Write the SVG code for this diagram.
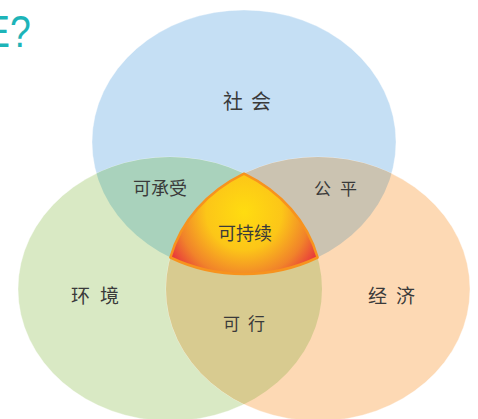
<svg xmlns="http://www.w3.org/2000/svg" width="478" height="419" viewBox="0 0 478 419">
<defs>
<style>
.lbl{font-family:"Noto Sans CJK SC","Noto Sans",sans-serif;fill:#3a3a3a;text-anchor:middle}
.ttl{font-family:"Liberation Sans",Arial,sans-serif;fill:#1db4b8;font-size:44px}
.edge{stroke:#ffffff;stroke-opacity:0.35;stroke-width:1}
</style>
<clipPath id="cBlue"><ellipse cx="244" cy="142" rx="152" ry="132"/></clipPath>
<clipPath id="cGreen"><ellipse cx="170" cy="289" rx="152" ry="132"/></clipPath>
<radialGradient id="gCore" gradientUnits="userSpaceOnUse" cx="244" cy="212" r="84">
<stop offset="0" stop-color="#ffdc10"/>
<stop offset="0.45" stop-color="#fcc618"/>
<stop offset="0.78" stop-color="#f1832a"/>
<stop offset="1" stop-color="#e8393c"/>
</radialGradient>
</defs>
<rect width="478" height="419" fill="#ffffff"/>
<g id="title">
<text class="ttl" x="0" y="0" transform="translate(-15,47) scale(0.85,1)">E?</text>
</g>
<g id="society">
<ellipse class="edge" cx="244" cy="142" rx="152" ry="132" fill="#c5dff4"/>
</g>
<g id="environment">
<ellipse class="edge" cx="170" cy="289" rx="152" ry="132" fill="#d9e9c4"/>
</g>
<g id="economy">
<ellipse class="edge" cx="318" cy="289" rx="152" ry="132" fill="#fdd9b4"/>
</g>
<g id="bearable">
<ellipse cx="170" cy="289" rx="152" ry="132" fill="#a9d2bc" clip-path="url(#cBlue)"/>
</g>
<g id="equitable">
<ellipse cx="318" cy="289" rx="152" ry="132" fill="#cbc3b1" clip-path="url(#cBlue)"/>
</g>
<g id="viable">
<ellipse cx="318" cy="289" rx="152" ry="132" fill="#d8cb90" clip-path="url(#cGreen)"/>
</g>
<g id="sustainable">
<path d="M244,173.7 A152,132 0 0 0 170.4,257.5 A152,132 0 0 0 317.6,257.5 A152,132 0 0 0 244,173.7 Z" fill="url(#gCore)" stroke="#f7931e" stroke-width="2.5" stroke-linejoin="round"/>
</g>
<g id="connectors"></g>
<g id="labels">
<text class="lbl" x="251" y="109" font-size="20" letter-spacing="8">社会</text>
<text class="lbl" x="100" y="303" font-size="19" letter-spacing="10">环境</text>
<text class="lbl" x="396" y="303" font-size="19" letter-spacing="9">经济</text>
<text class="lbl" x="248" y="330" font-size="17" letter-spacing="8">可行</text>
<text class="lbl" x="160" y="195" font-size="18">可承受</text>
<text class="lbl" x="340" y="195" font-size="17" letter-spacing="9">公平</text>
<text class="lbl" x="245" y="240" font-size="18">可持续</text>
</g>
</svg>
